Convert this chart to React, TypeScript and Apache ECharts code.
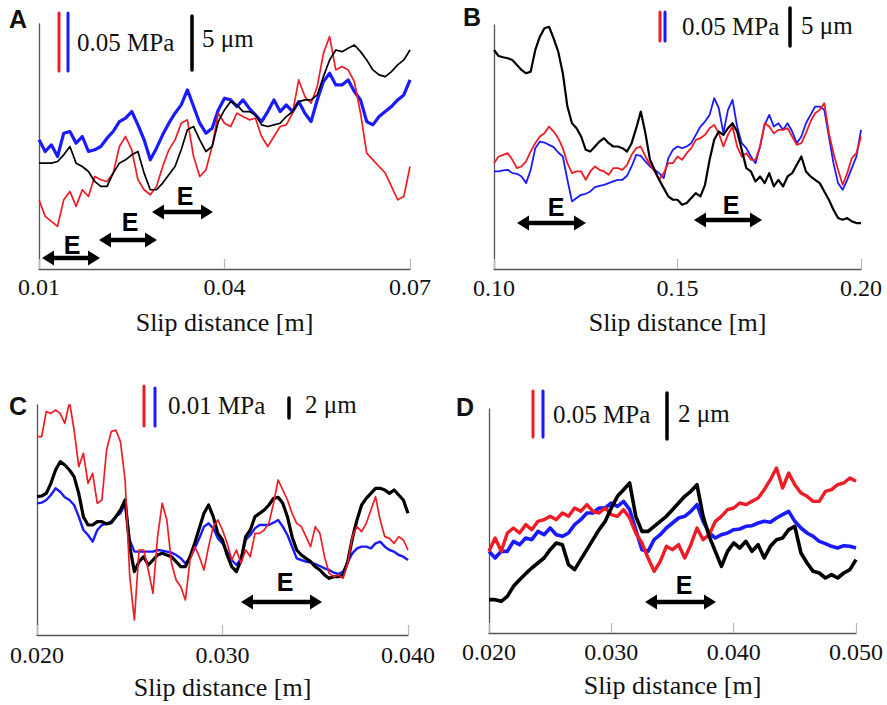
import React, { useEffect, useRef } from "react";
import * as echarts from "echarts";

// ---------- sample grids (slip distance, m) ----------
function seq(start: number, step: number, n: number): number[] {
  return Array.from({ length: n }, (_, i) => +(start + i * step).toFixed(6));
}
const slipA = seq(0.01, 0.001, 61);
const slipB = seq(0.1, 0.00125, 81);
const slipC = seq(0.02, 0.00025, 81);
const slipD = seq(0.02, 0.0005, 61);

// ---------- tick labels ----------
const ticksA = [0.01, 0.04, 0.07];
const ticksB = [0.1, 0.15, 0.2];
const ticksC = [0.02, 0.03, 0.04];
const ticksD = [0.02, 0.03, 0.04, 0.05];

// ---------- profile values (arbitrary depth units, larger = lower) ----------
const redA = [600, 650, 665, 680, 600, 575, 620, 570, 590, 530, 540, 545, 520, 440, 410, 450, 540, 570, 585, 560, 500, 450, 420, 370, 360, 470, 530, 510, 440, 340, 370, 380, 340, 350, 360, 355, 410, 440, 410, 380, 375, 340, 240, 290, 310, 260, 160, 110, 210, 200, 210, 245, 340, 460, 480, 500, 520, 560, 600, 590, 500];
const blueA = [420, 455, 435, 470, 400, 395, 430, 410, 455, 450, 440, 415, 395, 365, 355, 335, 375, 420, 480, 445, 405, 370, 340, 315, 270, 320, 370, 400, 385, 330, 295, 300, 320, 300, 325, 345, 365, 335, 300, 335, 315, 335, 305, 340, 365, 300, 245, 220, 255, 255, 240, 275, 300, 365, 375, 350, 335, 320, 300, 285, 240];
const blackA = [490, 490, 490, 485, 465, 440, 490, 500, 515, 545, 560, 560, 520, 490, 480, 465, 455, 520, 570, 570, 550, 525, 500, 450, 390, 380, 420, 455, 440, 365, 330, 305, 315, 335, 335, 345, 375, 380, 375, 370, 350, 335, 305, 300, 300, 285, 230, 180, 150, 155, 145, 135, 155, 180, 210, 225, 230, 215, 195, 180, 150];

const redB = [490, 470, 465, 460, 480, 505, 500, 485, 455, 430, 410, 400, 380, 395, 415, 445, 490, 520, 515, 515, 540, 515, 500, 510, 515, 525, 505, 505, 510, 495, 465, 445, 440, 470, 495, 515, 540, 520, 490, 490, 470, 480, 460, 445, 420, 415, 405, 385, 375, 400, 440, 405, 380, 440, 470, 460, 480, 480, 440, 370, 380, 400, 390, 390, 385, 410, 435, 430, 400, 365, 340, 330, 310, 400, 460, 510, 555, 520, 475, 460, 410];
const blueB = [515, 515, 512, 510, 520, 522, 530, 550, 510, 445, 425, 428, 435, 442, 458, 470, 540, 605, 595, 585, 582, 575, 562, 558, 555, 550, 545, 540, 540, 528, 500, 465, 468, 485, 500, 510, 520, 535, 475, 450, 440, 445, 440, 430, 405, 380, 365, 345, 295, 325, 400, 330, 300, 380, 430, 445, 470, 490, 440, 375, 345, 380, 370, 390, 370, 395, 430, 410, 370, 345, 320, 320, 330, 410, 490, 550, 570, 540, 505, 470, 390];
const blackB = [150, 168, 172, 175, 180, 195, 210, 220, 215, 150, 110, 85, 80, 115, 155, 220, 320, 370, 385, 410, 450, 455, 440, 425, 415, 430, 440, 440, 445, 455, 430, 385, 335, 400, 480, 510, 540, 565, 590, 600, 600, 615, 610, 595, 580, 590, 555, 480, 420, 395, 405, 385, 370, 395, 450, 505, 515, 545, 530, 550, 520, 560, 540, 560, 530, 520, 495, 470, 515, 530, 540, 550, 575, 600, 630, 655, 660, 655, 665, 670, 670];

const redC = [200, 200, 125, 130, 120, 130, 160, 95, 180, 290, 250, 340, 310, 400, 390, 240, 185, 180, 215, 330, 620, 750, 540, 540, 600, 670, 500, 400, 450, 580, 630, 650, 690, 570, 530, 560, 600, 530, 470, 450, 480, 520, 570, 540, 580, 540, 560, 490, 490, 480, 460, 400, 330, 360, 390, 430, 460, 470, 500, 530, 470, 490, 560, 610, 620, 615, 625, 580, 500, 470, 485, 460, 420, 380, 450, 500, 505, 520, 500, 510, 540];
const blueC = [400, 398, 390, 375, 355, 365, 382, 390, 405, 440, 480, 495, 515, 480, 465, 460, 455, 440, 430, 400, 510, 545, 545, 545, 545, 545, 540, 542, 545, 548, 555, 565, 580, 565, 535, 505, 470, 460, 475, 505, 520, 545, 570, 585, 565, 510, 495, 475, 465, 465, 465, 458, 450, 470, 495, 530, 565, 570, 575, 578, 582, 588, 595, 600, 608, 612, 605, 575, 550, 535, 530, 530, 535, 520, 515, 530, 540, 545, 555, 560, 570];
const blackC = [380, 378, 370, 340, 300, 275, 285, 300, 320, 370, 440, 465, 465, 455, 455, 462, 458, 440, 420, 390, 530, 605, 575, 560, 585, 570, 555, 550, 555, 560, 575, 590, 590, 560, 520, 475, 430, 405, 440, 490, 510, 555, 590, 605, 570, 500, 480, 440, 430, 420, 405, 385, 382, 400, 440, 500, 540, 555, 565, 575, 590, 600, 615, 625, 620, 620, 615, 575, 505, 450, 405, 385, 370, 355, 355, 360, 370, 360, 375, 390, 430];

const redD = [545, 505, 545, 490, 475, 490, 465, 480, 455, 450, 440, 450, 430, 440, 415, 425, 405, 425, 430, 415, 435, 440, 420, 445, 490, 520, 565, 605, 575, 530, 540, 525, 565, 525, 475, 510, 495, 455, 440, 420, 415, 400, 405, 395, 385, 360, 330, 295, 355, 310, 345, 370, 380, 395, 395, 365, 360, 345, 340, 325, 335];
const blueD = [545, 565, 545, 545, 515, 525, 505, 510, 485, 495, 475, 495, 500, 490, 465, 450, 430, 430, 415, 415, 400, 410, 395, 420, 480, 540, 545, 510, 495, 475, 460, 445, 440, 425, 405, 455, 490, 505, 495, 490, 480, 478, 470, 468, 460, 455, 458, 445, 435, 425, 455, 475, 490, 500, 515, 522, 530, 535, 528, 530, 535];
const blackD = [690, 690, 695, 680, 650, 630, 612, 595, 580, 565, 540, 520, 525, 585, 600, 570, 540, 510, 480, 455, 415, 380, 360, 340, 440, 485, 485, 470, 455, 440, 420, 400, 380, 365, 345, 440, 500, 545, 590, 545, 520, 535, 515, 545, 525, 565, 530, 510, 505, 480, 470, 550, 580, 605, 610, 625, 615, 625, 610, 600, 570];

const RED = "#ee1c25";
const BLUE = "#1a1aff";
const BLACK = "#000000";
const SERIF = "'Liberation Serif', 'Times New Roman', serif";
const SANS = "'Liberation Sans', Arial, sans-serif";

const panels = [
  { grid: { left: 39, top: 24, width: 371, height: 245 }, xmin: 0.01, xmax: 0.07, ticks: ticksA, dec: 2, ymin: 72, ymax: 808, labelMargin: 6, nameGap: 53,
    series: [[slipA, blueA, BLUE, 3.2], [slipA, redA, RED, 1.7], [slipA, blackA, BLACK, 1.7]] },
  { grid: { left: 494, top: 25, width: 367, height: 244 }, xmin: 0.1, xmax: 0.2, ticks: ticksB, dec: 2, ymin: 75, ymax: 808, labelMargin: 7, nameGap: 53,
    series: [[slipB, blueB, BLUE, 1.8], [slipB, redB, RED, 1.8], [slipB, blackB, BLACK, 2.2]] },
  { grid: { left: 37, top: 405, width: 371, height: 230 }, xmin: 0.02, xmax: 0.04, ticks: ticksC, dec: 3, ymin: 105, ymax: 795, labelMargin: 8, nameGap: 52,
    series: [[slipC, blueC, BLUE, 2.4], [slipC, blackC, BLACK, 3.2], [slipC, redC, RED, 1.7]] },
  { grid: { left: 489, top: 409, width: 367, height: 224 }, xmin: 0.02, xmax: 0.05, ticks: ticksD, dec: 3, ymin: 118, ymax: 790, labelMargin: 7, nameGap: 52,
    series: [[slipD, blueD, BLUE, 3.6], [slipD, redD, RED, 3.4], [slipD, blackD, BLACK, 3.6]] },
];

function arrow(x1: number, x2: number, y: number) {
  const h = 12;
  const w = 7.5;
  return [
    { type: "line", shape: { x1: x1 + h - 1, y1: y, x2: x2 - h + 1, y2: y }, style: { stroke: "#000", lineWidth: 4.5 } },
    { type: "polygon", shape: { points: [[x1, y], [x1 + h, y - w], [x1 + h, y + w]] }, style: { fill: "#000" } },
    { type: "polygon", shape: { points: [[x2, y], [x2 - h, y - w], [x2 - h, y + w]] }, style: { fill: "#000" } },
  ];
}
function eLabel(x: number, y: number) {
  return { type: "text", x, y, style: { text: "E", font: `bold 25px ${SANS}`, fill: "#000", textAlign: "center", textVerticalAlign: "middle", align: "center", verticalAlign: "middle" } };
}
function txt(text: string, x: number, y: number, font: string) {
  return { type: "text", x, y, style: { text, font, fill: "#111", textAlign: "left", textVerticalAlign: "middle", align: "left", verticalAlign: "middle" } };
}
function bar(x: number, y1: number, y2: number, color: string, w = 3) {
  return { type: "line", shape: { x1: x, y1, x2: x, y2 }, style: { stroke: color, lineWidth: w, lineCap: "round" } };
}

export default function App() {
  const ref = useRef<HTMLDivElement>(null);
  useEffect(() => {
    if (!ref.current) return;
    const chart = echarts.init(ref.current, undefined, { renderer: "svg" });
    const series: any[] = [];
    panels.forEach((p, pi) => {
      p.series.forEach((s: any) => {
        const xs = s[0] as number[];
        const ys = s[1] as number[];
        series.push({
          type: "line",
          xAxisIndex: pi,
          yAxisIndex: pi,
          showSymbol: false,
          symbol: "none",
          lineStyle: { color: s[2], width: s[3], join: "round" },
          data: xs.map((x, i) => [x, ys[i]]),
        });
      });
    });
    const MPA = `25px ${SERIF}`;
    const graphic: any[] = [
      txt("A", 9, 19, `bold 25px ${SANS}`),
      txt("B", 463, 17, `bold 25px ${SANS}`),
      txt("C", 9, 406, `bold 25px ${SANS}`),
      txt("D", 456, 407, `bold 25px ${SANS}`),
      bar(59, 13, 71, RED), bar(68, 13, 71, BLUE), txt("0.05 MPa", 77, 42, MPA),
      bar(192, 16, 70, BLACK, 3.5), txt("5 μm", 202, 38, MPA),
      bar(660, 12, 41, RED), bar(665, 12, 41, BLUE), txt("0.05 MPa", 682, 26, MPA),
      bar(790, 8, 46, BLACK, 3.5), txt("5 μm", 801, 25, MPA),
      bar(144, 386, 426, RED), bar(155, 388, 426, BLUE), txt("0.01 MPa", 168, 405, MPA),
      bar(289, 398, 418, BLACK, 3.5), txt("2 μm", 305, 404, MPA),
      bar(533, 391, 437, RED), bar(543, 391, 437, BLUE), txt("0.05 MPa", 553, 414, MPA),
      bar(667, 393, 439, BLACK, 3.5), txt("2 μm", 678, 413, MPA),
      ...arrow(42, 100, 258), eLabel(72, 245),
      ...arrow(99, 157, 240), eLabel(130, 222),
      ...arrow(152, 213, 212), eLabel(185, 196),
      ...arrow(517, 586, 223), eLabel(556, 207),
      ...arrow(694, 762, 220), eLabel(731, 205),
      ...arrow(241, 322, 602), eLabel(285, 582),
      ...arrow(645, 716, 602), eLabel(684, 585),
    ];
    chart.setOption({
      animation: false,
      backgroundColor: "#ffffff",
      grid: panels.map((p) => ({ ...p.grid, containLabel: false })),
      xAxis: panels.map((p, pi) => ({
        type: "value",
        gridIndex: pi,
        min: p.xmin,
        max: p.xmax,
        name: "Slip distance [m]",
        nameLocation: "middle",
        nameGap: p.nameGap,
        nameTextStyle: { fontFamily: SERIF, fontSize: 26, color: "#111", verticalAlign: "middle" },
        axisLine: { show: true, onZero: false, lineStyle: { color: "#555", width: 1.3 } },
        axisTick: { show: true, inside: true, length: 10, customValues: p.ticks, lineStyle: { color: "#b8b8b8", width: 1.2 } },
        axisLabel: {
          show: true,
          customValues: p.ticks,
          margin: p.labelMargin,
          fontFamily: SERIF,
          fontSize: 24,
          color: "#111",
          showMinLabel: true,
          showMaxLabel: true,
          formatter: (v: number) => v.toFixed(p.dec),
        },
        splitLine: { show: false },
      })),
      yAxis: panels.map((p, pi) => ({
        type: "value",
        gridIndex: pi,
        inverse: true,
        min: p.ymin,
        max: p.ymax,
        axisLine: { show: true, onZero: false, lineStyle: { color: "#555", width: 1.3 } },
        axisTick: { show: false },
        axisLabel: { show: false },
        splitLine: { show: false },
      })),
      series,
      graphic,
    });
    return () => chart.dispose();
  }, []);
  return <div ref={ref} style={{ position: "fixed", left: 0, top: 0, width: 887, height: 705, background: "#fff" }} />;
}
